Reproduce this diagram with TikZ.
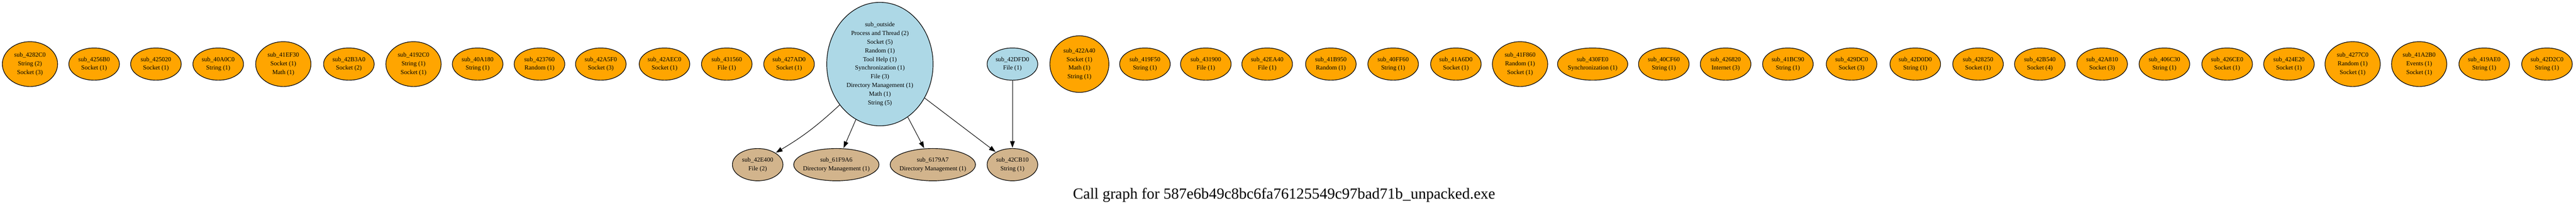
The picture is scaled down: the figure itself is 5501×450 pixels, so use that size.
\documentclass[tikz,border=0pt]{standalone}
\usepackage{fontspec}
\setmainfont{Liberation Serif}
\usetikzlibrary{shapes.geometric, arrows.meta, positioning}

\definecolor{gvorange}{HTML}{FFA500}
\definecolor{gvblue}{HTML}{ADD8E6}
\definecolor{gvtan}{HTML}{D2B48C}

\begin{document}
\begin{tikzpicture}[shorten >= 1pt, on grid, >={Triangle[length=14pt, width=10pt]},
    fn/.style={ellipse, draw, line width=1.3pt, fill=gvorange, inner sep=0pt,
      minimum width=108pt, minimum height=69pt, align=center,
      font=\fontsize{13.3pt}{18.5pt}\selectfont},
    fn3/.style={fn, minimum width=118pt, minimum height=96pt},
    fn4/.style={fn, minimum width=126pt, minimum height=121pt},
    root/.style={fn, fill=gvblue, minimum width=227pt, minimum height=264pt},
    leaf/.style={fn, fill=gvtan},
    dm/.style={minimum width=182pt, inner xsep=-9pt},
    call/.style={line width=1.1pt}]
  \useasboundingbox (0pt,0pt) rectangle (5501pt,-450pt);
  \node[fn3] (4282C0) at (64pt,-137pt) {sub\_4282C0\\String (2)\\Socket (3)};
  \node[fn] (4256B0) [right=137pt of 4282C0] {sub\_4256B0\\Socket (1)};
  \node[fn] (425020) [right=132pt of 4256B0] {sub\_425020\\Socket (1)};
  \node[fn] (40A0C0) [right=133pt of 425020] {sub\_40A0C0\\String (1)};
  \node[fn3] (41EF30) [right=139pt of 40A0C0] {sub\_41EF30\\Socket (1)\\Math (1)};
  \node[fn] (42B3A0) [right=140pt of 41EF30] {sub\_42B3A0\\Socket (2)};
  \node[fn3] (4192C0) [right=138pt of 42B3A0] {sub\_4192C0\\String (1)\\Socket (1)};
  \node[fn] (40A180) [right=137pt of 4192C0] {sub\_40A180\\String (1)};
  \node[fn] (423760) [right=132pt of 40A180] {sub\_423760\\Random (1)};
  \node[fn] (42A5F0) [right=131pt of 423760] {sub\_42A5F0\\Socket (3)};
  \node[fn] (42AEC0) [right=136pt of 42A5F0] {sub\_42AEC0\\Socket (1)};
  \node[fn] (431560) [right=133pt of 42AEC0] {sub\_431560\\File (1)};
  \node[fn] (427AD0) [right=133pt of 431560] {sub\_427AD0\\Socket (1)};
  \node[root] (outside) [right=194pt of 427AD0] {sub\_outside\\Process and Thread (2)\\Socket (5)\\Random (1)\\Tool Help (1)\\Synchronization (1)\\File (3)\\Directory Management (1)\\Math (1)\\String (5)};
  \node[fn, fill=gvblue] (42DFD0) [right=283pt of outside] {sub\_42DFD0\\File (1)};
  \node[fn4] (422A40) [right=143pt of 42DFD0] {sub\_422A40\\Socket (1)\\Math (1)\\String (1)};
  \node[fn] (419F50) [right=140pt of 422A40] {sub\_419F50\\String (1)};
  \node[fn] (431900) [right=130pt of 419F50] {sub\_431900\\File (1)};
  \node[fn] (42EA40) [right=131pt of 431900] {sub\_42EA40\\File (1)};
  \node[fn] (41B950) [right=136pt of 42EA40] {sub\_41B950\\Random (1)};
  \node[fn] (40FF60) [right=133pt of 41B950] {sub\_40FF60\\String (1)};
  \node[fn] (41A6D0) [right=134pt of 40FF60] {sub\_41A6D0\\Socket (1)};
  \node[fn3] (41F860) [right=137pt of 41A6D0] {sub\_41F860\\Random (1)\\Socket (1)};
  \node[fn] (430FE0) [right=155pt of 41F860] {sub\_430FE0\\Synchronization (1)};
  \node[fn] (40CF60) [right=152pt of 430FE0] {sub\_40CF60\\String (1)};
  \node[fn] (426820) [right=132pt of 40CF60] {sub\_426820\\Internet (3)};
  \node[fn] (41BC90) [right=133pt of 426820] {sub\_41BC90\\String (1)};
  \node[fn] (429DC0) [right=136pt of 41BC90] {sub\_429DC0\\Socket (3)};
  \node[fn] (42D0D0) [right=136pt of 429DC0] {sub\_42D0D0\\String (1)};
  \node[fn] (428250) [right=134pt of 42D0D0] {sub\_428250\\Socket (1)};
  \node[fn] (42B540) [right=132pt of 428250] {sub\_42B540\\Socket (4)};
  \node[fn] (42A810) [right=133pt of 42B540] {sub\_42A810\\Socket (3)};
  \node[fn] (406C30) [right=133pt of 42A810] {sub\_406C30\\String (1)};
  \node[fn] (426CE0) [right=134pt of 406C30] {sub\_426CE0\\Socket (1)};
  \node[fn] (424E20) [right=132pt of 426CE0] {sub\_424E20\\Socket (1)};
  \node[fn3] (4277C0) [right=136pt of 424E20] {sub\_4277C0\\Random (1)\\Socket (1)};
  \node[fn3] (41A2B0) [right=142pt of 4277C0] {sub\_41A2B0\\Events (1)\\Socket (1)};
  \node[fn] (419AE0) [right=139pt of 41A2B0] {sub\_419AE0\\String (1)};
  \node[fn] (42D2C0) [right=134pt of 419AE0] {sub\_42D2C0\\String (1)};
  \node[leaf] (42E400) [below left=215pt and 261pt of outside] {sub\_42E400\\File (2)};
  \node[leaf, dm] (61F9A6) [right=168pt of 42E400] {sub\_61F9A6\\Directory Management (1)};
  \node[leaf, dm] (6179A7) [right=206pt of 61F9A6] {sub\_6179A7\\Directory Management (1)};
  \node[leaf] (42CB10) [below=215pt of 42DFD0] {sub\_42CB10\\String (1)};
  \node[font=\fontsize{33pt}{40pt}\selectfont, anchor=base] (caption) at (2742pt,-425pt)
    {Call graph for 587e6b49c8bc6fa76125549c97bad71b\_unpacked.exe};
  \path[->, call]
    (outside) edge [bend left=6] (42E400)
              edge (61F9A6)
              edge (6179A7)
              edge (42CB10)
    (42DFD0) edge (42CB10);
\end{tikzpicture}
\end{document}
